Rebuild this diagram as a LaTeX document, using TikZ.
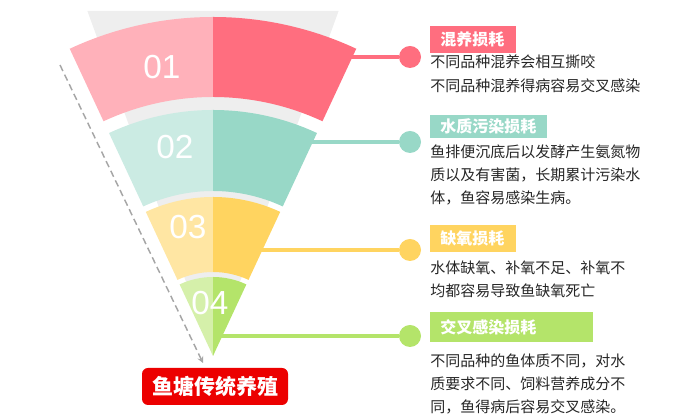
\documentclass[tikz,border=0pt]{standalone}
\usepackage{fontspec}
\setmainfont{Liberation Sans}
\newfontfamily\cjk{Noto Sans CJK SC}
\usetikzlibrary{arrows.meta}

\definecolor{pinkD}{HTML}{FF6E7F}
\definecolor{pinkL}{HTML}{FFB1BA}
\definecolor{mintD}{HTML}{98D8C7}
\definecolor{mintL}{HTML}{CBEBE3}
\definecolor{yelD}{HTML}{FFD460}
\definecolor{yelL}{HTML}{FFE6A3}
\definecolor{grnD}{HTML}{B4E46A}
\definecolor{grnL}{HTML}{D5F0AA}
\definecolor{wedgegrey}{HTML}{EEEEEE}
\definecolor{baseRed}{HTML}{EC0000}

\begin{document}
\begin{tikzpicture}[x=0.75pt, y=0.75pt, >=stealth,
    num/.style={text=white, font=\fontsize{25}{25}\selectfont},
    ttl/.style={anchor=west, text=white, inner xsep=7.5pt, inner ysep=0pt, minimum height=20pt, font=\cjk\bfseries\fontsize{12}{12}\selectfont},
    body/.style={anchor=north west, inner sep=0pt, align=left, text=black!85, font=\cjk\fontsize{11.25}{17}\selectfont},
    bead/.style={circle, minimum size=16.5pt, inner sep=0pt},
    link/.style={line width=2.6pt}]

\useasboundingbox (0,0) rectangle (700,420);

% grey wedge behind the funnel
\coordinate (apex) at (213,64);
\fill[wedgegrey] (apex) -- (87.4,409) -- (338.6,409) -- cycle;

% connectors, their start is covered by the segments
\coordinate (s1) at (340,363);
\coordinate (s2) at (300,278);
\coordinate (s3) at (250,170);
\coordinate (s4) at (218,84);
\node[bead, fill=pinkD] (d1) at (410,363) {};
\node[bead, fill=mintD] (d2) at (410,278) {};
\node[bead, fill=yelD] (d3) at (410,170) {};
\node[bead, fill=grnD] (d4) at (410,84) {};
\draw[link, pinkD] (s1) -- (d1);
\draw[link, mintD] (s2) -- (d2);
\draw[link, yelD] (s3) -- (d3);
\draw[link, grnD] (s4) -- (d4);

% funnel segments, light left half and full right half
\foreach \ro/\ri/\cl/\cd in {339/259/pinkL/pinkD, 246/165/mintL/mintD, 159/84/yelL/yelD, 79/0.01/grnL/grnD}{
  \fill[\cl] ([shift={(90:\ri)}]apex) -- ([shift={(90:\ro)}]apex) arc[start angle=90, end angle=115, radius=\ro]
    -- ([shift={(115:\ri)}]apex) arc[start angle=115, end angle=90, radius=\ri] -- cycle;
  \fill[\cd] ([shift={(90:\ri)}]apex) -- ([shift={(90:\ro)}]apex) arc[start angle=90, end angle=65, radius=\ro]
    -- ([shift={(65:\ri)}]apex) arc[start angle=65, end angle=90, radius=\ri] -- cycle;
}
\node[num] (n1) at (162,353) {01};
\node[num] (n2) at (175,273) {02};
\node[num] (n3) at (188,193) {03};
\node[num] (n4) at (210,117) {04};

% dashed arrow along the funnel
\coordinate (dtop) at (60,355);
\coordinate (dbot) at (203,57);
\draw[->, black!35, line width=1.1pt, dash pattern=on 5pt off 3pt] (dtop) -- (dbot);

\node[fill=baseRed, rounded corners=4.5pt, minimum width=109.5pt, minimum height=27.75pt, text=white,
  font=\cjk\bfseries\fontsize{15.75}{16}\selectfont] (base) at (215,33.5) {鱼塘传统养殖};

% titles and texts
\node[ttl, fill=pinkD, text width=49.5pt] (t1) at (430,380.5) {混养损耗};
\node[body] (b1) at (430,365) {不同品种混养会相互撕咬\\[1pt]不同品种混养得病容易交叉感染};
\node[ttl, fill=mintD, text width=72.75pt, minimum height=17.5pt] (t2) at (430,293.5) {水质污染损耗};
\node[body] (b2) at (430,275) {鱼排便沉底后以发酵产生氨氮物\\质以及有害菌，长期累计污染水\\体，鱼容易感染生病。};
\node[ttl, fill=yelD, text width=49.5pt] (t3) at (430,181.5) {缺氧损耗};
\node[body] (b3) at (430,159) {水体缺氧、补氧不足、补氧不\\均都容易导致鱼缺氧死亡};
\node[ttl, fill=grnD, text width=107.25pt, minimum height=22.5pt] (t4) at (430,93) {交叉感染损耗};
\node[body] (b4) at (430,66) {不同品种的鱼体质不同，对水\\质要求不同、饲料营养成分不\\同，鱼得病后容易交叉感染。};
\end{tikzpicture}
\end{document}
